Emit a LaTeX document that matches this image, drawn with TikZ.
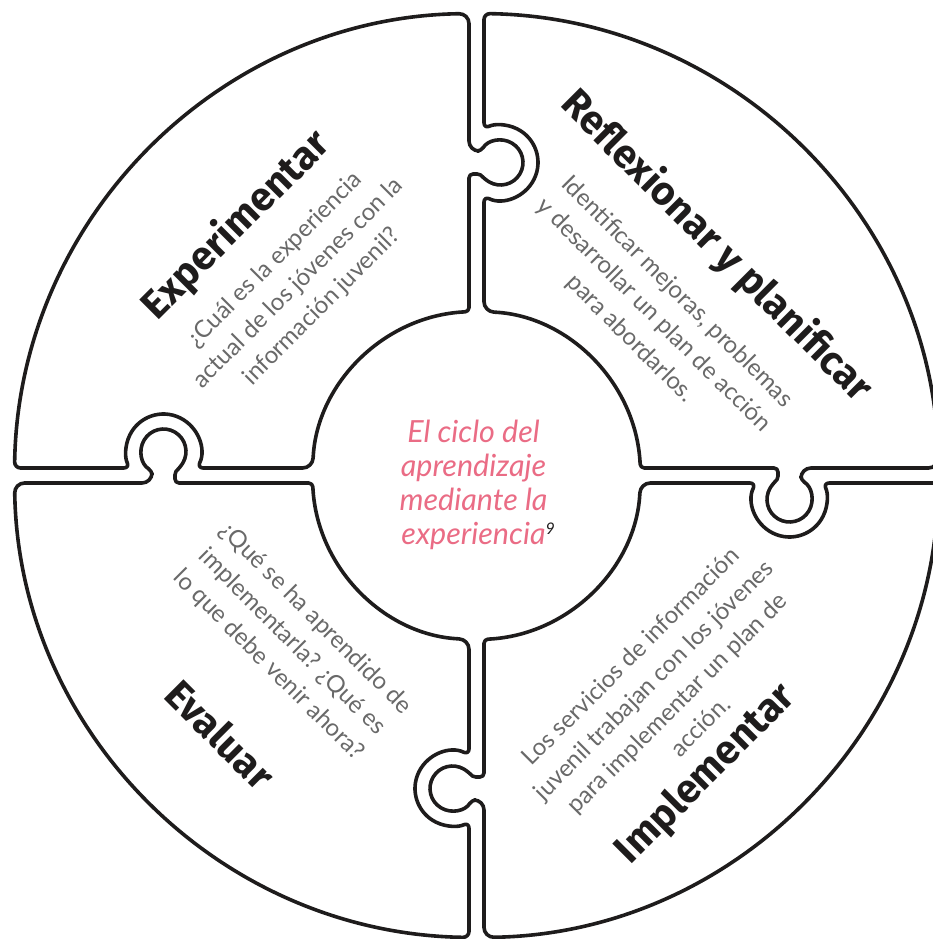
\documentclass[tikz,border=0pt]{standalone}
\usepackage{fontspec}
\setmainfont{Lato}
\newfontfamily\titlefont{Fira Sans}
\definecolor{pinktxt}{RGB}{234,108,133}
\definecolor{graytxt}{RGB}{105,105,105}
\definecolor{inkline}{RGB}{30,28,28}
\tikzset{
  piece/.style={draw=inkline, line width=3.6pt, line join=round},
  titletxt/.style={font=\titlefont\bfseries\fontsize{40}{42}\selectfont, text=inkline},
  bodytxt/.style={font=\fontsize{24}{33}\selectfont, text=graytxt, align=center},
  centertxt/.style={font=\itshape\fontsize{30.5}{34}\selectfont, text=pinktxt, align=center}
}
\newcommand\mypuzzlepiece[1]{%
  \draw[piece, rotate=#1]
    (7.5,220) [rounded corners=6pt]
    -- (7.5,279.33)
    arc[start angle=243.9, end angle=476.1, radius=37.5]
    -- (7.5,461.94) [rounded corners=10pt]
    arc[start angle=89.07, end angle=0.93, radius=462]
    -- (324.5,7.5) [rounded corners=4pt]
    -- (324.5,-4.66)
    arc[start angle=59.26, end angle=-239.26, radius=22.5]
    -- (301.5,7.5)
    -- (163.83,7.5) [rounded corners=10pt]
    arc[start angle=2.62, end angle=87.38, radius=164]
    -- cycle;
}
\begin{document}
\begin{tikzpicture}[x=1pt,y=1pt]
\useasboundingbox (-476.5,-463.5) rectangle (455.5,475.5);
\mypuzzlepiece{0}
\mypuzzlepiece{90}
\mypuzzlepiece{180}
\mypuzzlepiece{270}

\node[titletxt, rotate=45] (t1) at (-240,250) {Experimentar};
\node[titletxt, rotate=-45] (t2) at (240,229) {Reflexionar y planificar};
\node[titletxt, rotate=-45] (t3) at (-256,-259) {Evaluar};
\node[titletxt, rotate=45] (t4) at (230,-299) {Implementar};

\node[bodytxt, rotate=45] (b1) at (-178,192) {¿Cuál es la experiencia\\actual de los jóvenes con la\\información juvenil?};
\node[bodytxt, rotate=-45] (b2) at (177,160) {Identificar mejoras, problemas\\y desarrollar un plan de acción\\para abordarlos.};
\node[bodytxt, rotate=-45] (b3) at (-184.5,-166.5) {¿Qué se ha aprendido de\\implementarla? ¿Qué es\\lo que debe venir ahora?};
\node[bodytxt, rotate=45] (b4) at (188.5,-215.5) {Los servicios de información\\juvenil trabajan con los jóvenes\\para implementar un plan de\\acción.};

\node[centertxt] (c) at (-3,-9.5) {El ciclo del\\aprendizaje\\mediante la\\experiencia\rlap{\raisebox{10pt}{\fontsize{16}{16}\selectfont\color{inkline}9}}};
\end{tikzpicture}
\end{document}
